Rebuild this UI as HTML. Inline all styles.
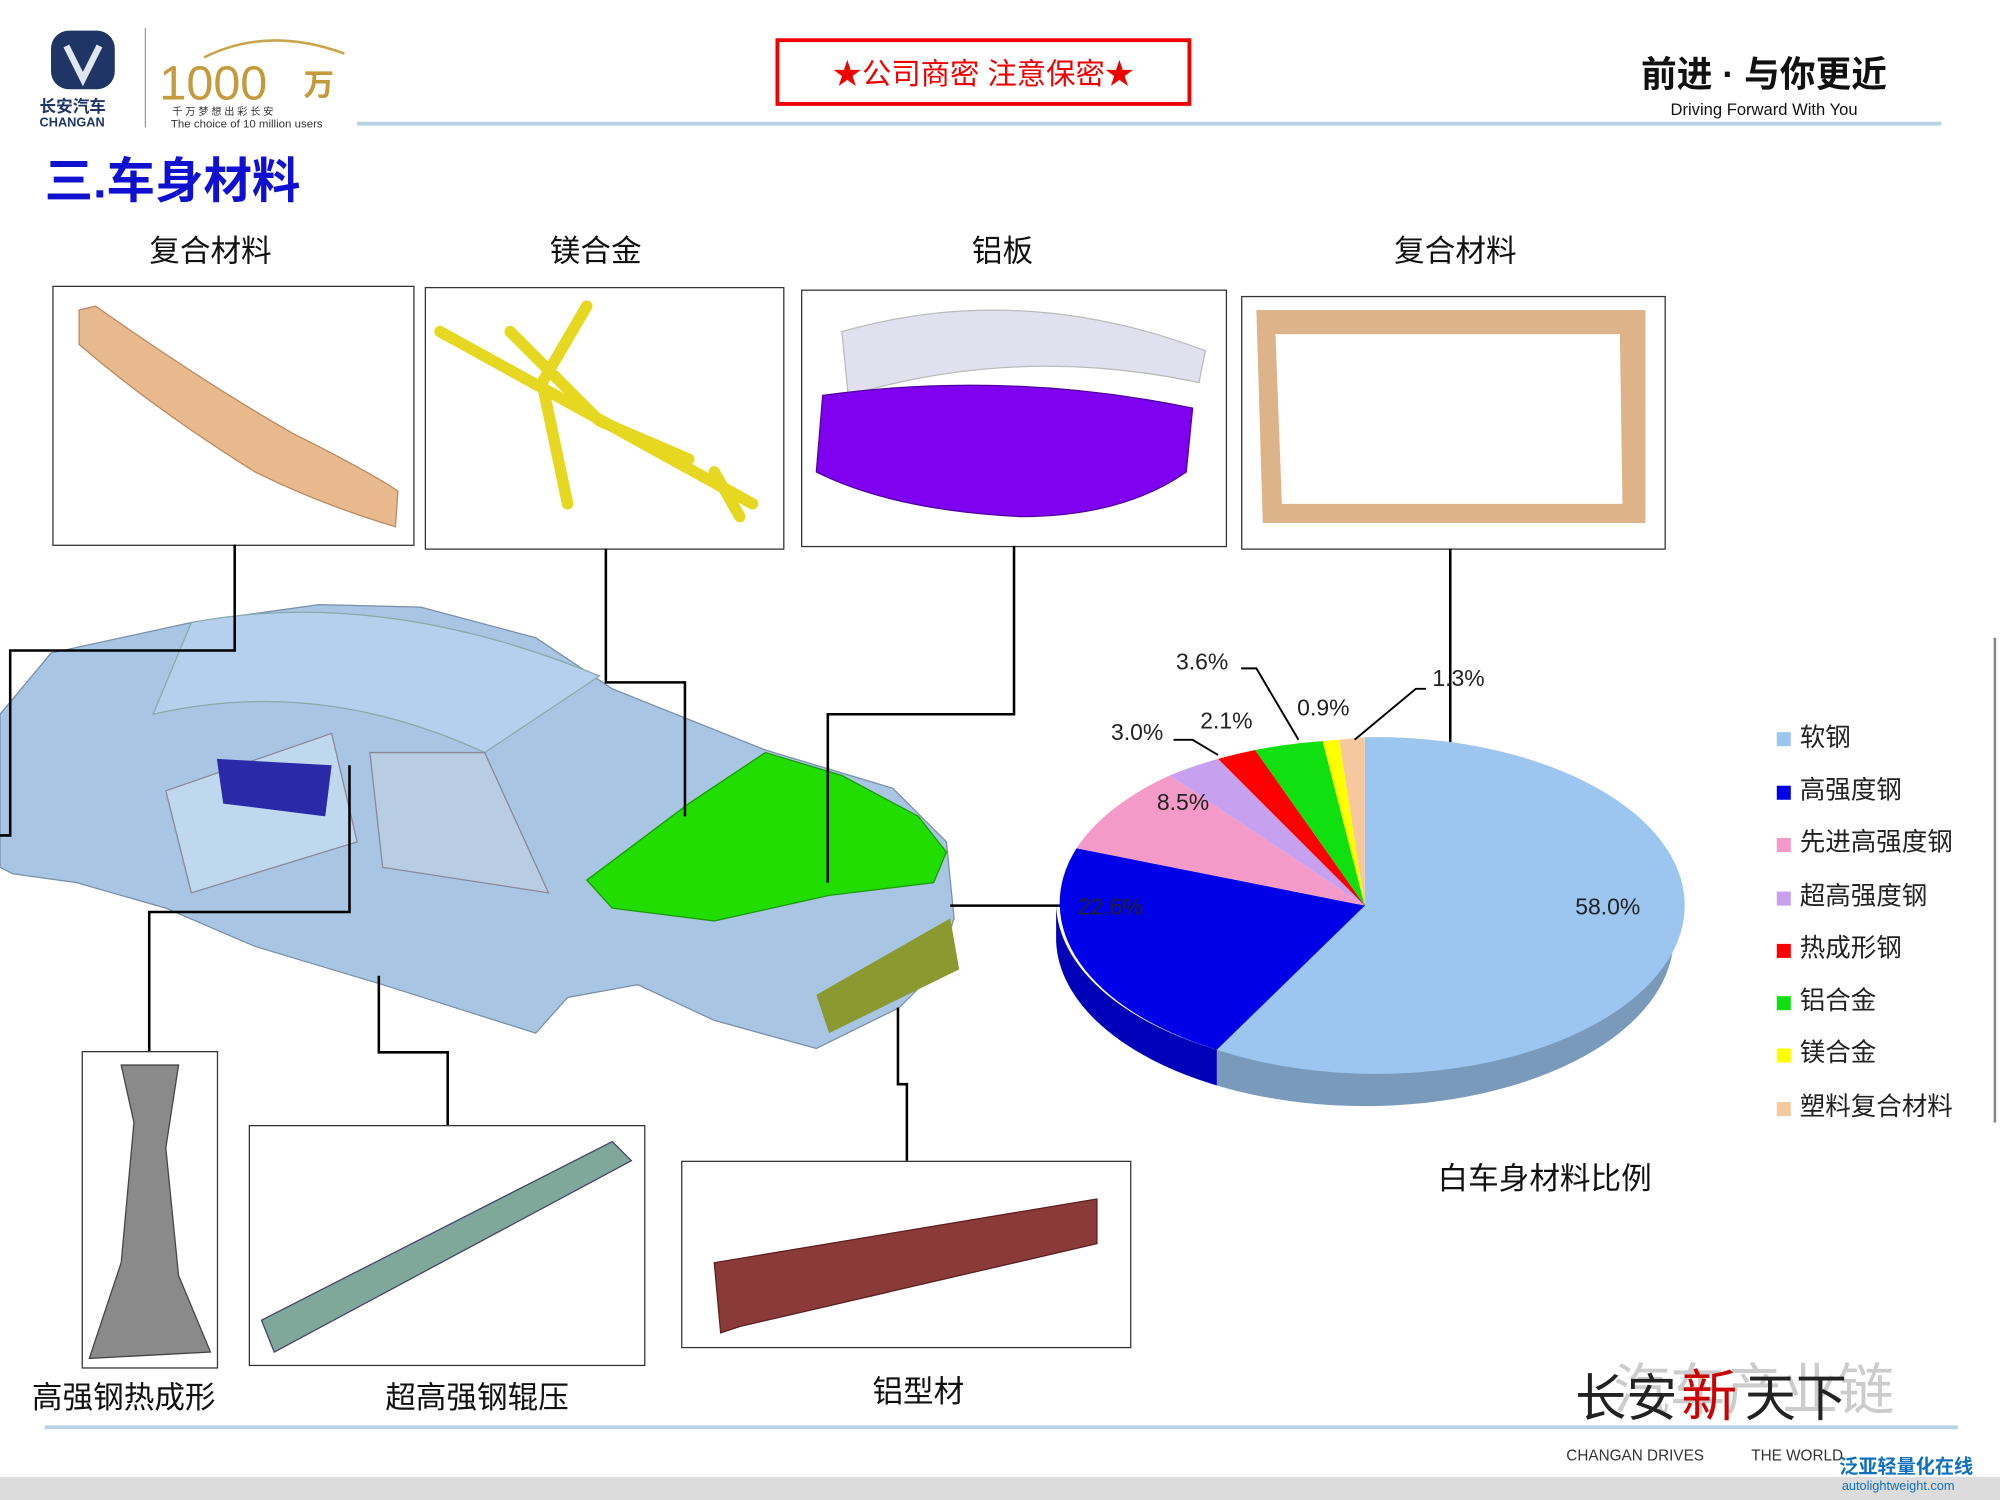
<!DOCTYPE html>
<html><head><meta charset="utf-8"><style>
html,body{margin:0;padding:0;background:#fff;width:2000px;height:1500px;overflow:hidden}
svg text{font-family:"Liberation Sans","Noto Sans CJK SC",sans-serif}
</style></head><body>
<svg width="2000" height="1500" viewBox="0 0 1568 1176" xmlns="http://www.w3.org/2000/svg">
<rect width="1568" height="1176" fill="#fff"/>
<!-- header -->
<rect x="40" y="24" width="50" height="46" rx="14" fill="#1f3565"/>
<path d="M52 36 L65 62 L78 36" stroke="#dfe6f0" stroke-width="5" fill="none"/>
<text x="31" y="88" font-size="13" font-weight="bold" fill="#1f3565">长安汽车</text>
<text x="31" y="99" font-size="10" font-weight="bold" fill="#1f3565">CHANGAN</text>
<line x1="114" y1="22" x2="114" y2="100" stroke="#999" stroke-width="1"/>
<path d="M160 45 Q210 20 270 42" stroke="#c9a44a" stroke-width="2" fill="none"/>
<text x="125" y="78" font-size="38" fill="#c49a3c" font-family="Liberation Serif">1000</text>
<text x="238" y="75" font-size="24" fill="#c49a3c" font-weight="bold">万</text>
<text x="135" y="90" font-size="8" fill="#333">千 万 梦 想  出 彩 长 安</text>
<text x="134" y="100" font-size="9" fill="#333">The choice of 10 million users</text>
<rect x="609.5" y="31.5" width="323" height="50" fill="#fff" stroke="#e00" stroke-width="3"/>
<text x="771" y="66" font-size="23" fill="#e00" text-anchor="middle">★公司商密  注意保密★</text>
<text x="1383" y="68" font-size="28" font-weight="bold" fill="#111" text-anchor="middle">前进 · 与你更近</text>
<text x="1383" y="90" font-size="13" fill="#111" text-anchor="middle">Driving Forward With You</text>
<line x1="280" y1="97" x2="1522" y2="97" stroke="#b8d3e3" stroke-width="3"/>
<text x="35" y="155" font-size="38" font-weight="bold" fill="#1010d0">三.车身材料</text>
<!-- top labels -->
<g font-size="24" fill="#111" text-anchor="middle">
<text x="165" y="205">复合材料</text><text x="467" y="205">镁合金</text>
<text x="786" y="205">铝板</text><text x="1141" y="205">复合材料</text>
<text x="97" y="1104">高强钢热成形</text><text x="374" y="1104">超高强钢辊压</text>
<text x="720" y="1099">铝型材</text>
<text x="1211" y="932">白车身材料比例</text>
</g>
<!-- boxes -->
<g fill="#fff" stroke="#333" stroke-width="1">
<rect x="41.5" y="224.5" width="283" height="203"/>
<rect x="333.5" y="225.5" width="281" height="205"/>
<rect x="628.5" y="227.5" width="333" height="201"/>
<rect x="973.5" y="232.5" width="332" height="198"/>
<rect x="64.5" y="824.5" width="106" height="248"/>
<rect x="195.5" y="882.5" width="310" height="188"/>
<rect x="534.5" y="910.5" width="352" height="146"/>
</g>
<!-- box contents -->
<path d="M62 243 L75 240 Q160 300 230 340 Q290 370 312 385 L310 413 Q250 395 200 370 Q120 320 62 270 Z" fill="#e7b98d" stroke="#b98a60"/>
<g stroke="#e6d820" stroke-width="9" fill="none" stroke-linecap="round">
<path d="M345 260 L590 395"/><path d="M460 240 L425 300 L445 395"/><path d="M400 260 L470 330 L540 360"/><path d="M560 370 L580 405"/>
</g>
<path d="M660 260 Q800 220 945 275 L940 300 Q800 270 665 310 Z" fill="#e0e0ee" stroke="#bbb"/>
<path d="M645 310 Q790 290 935 320 L930 370 Q880 405 800 405 Q700 400 640 370 Z" fill="#8000f0" stroke="#5000a0"/>
<path d="M985 243 L1290 243 L1290 410 L990 410 Z M1000 262 L1270 262 L1272 395 L1005 395 Z" fill="#ddb38a" fill-rule="evenodd"/>
<path d="M95 835 L140 835 L130 900 L140 1000 L165 1060 L70 1065 L95 990 L105 880 Z" fill="#8a8a8a" stroke="#444"/>
<path d="M205 1035 L480 895 L495 910 L215 1060 Z" fill="#7fa79a" stroke="#446"/>
<path d="M560 990 L860 940 L860 975 L580 1040 L565 1045 Z" fill="#8b3a3a" stroke="#5a2020"/>
<!-- car -->
<path d="M0 560 L40 512 L150 488 L250 474 L330 476 L420 500 L480 540 L600 588 L700 618 L742 660 L748 720 L735 760 L705 790 L640 822 L560 800 L500 772 L445 782 L420 810 L300 772 L200 742 L130 712 L60 692 L10 685 L0 680 Z" fill="#a8c6e4" stroke="#7890a8"/>
<path d="M150 488 Q300 460 470 530 L380 590 Q250 530 120 560 Z" fill="#b4d0ec" stroke="#8aa"/>
<path d="M130 620 L260 575 L280 660 L150 700 Z" fill="#c0d8ee" stroke="#889"/>
<path d="M170 595 L260 600 L255 640 L175 630 Z" fill="#2a2aa8"/>
<path d="M290 590 L380 590 L430 700 L300 680 Z" fill="#b8cde2" stroke="#889"/>
<path d="M460 690 L540 630 L600 590 L660 608 L720 640 L742 668 L732 692 L650 702 L560 722 L480 712 Z" fill="#22dd00" stroke="#1a9a00"/>
<path d="M640 780 L745 720 L752 760 L650 810 Z" fill="#8a9a30"/>
<!-- connectors -->
<g stroke="#000" stroke-width="2" fill="none">
<path d="M184 427 V510 H8 V655 H0"/>
<path d="M475 430 V535 H537 V640"/>
<path d="M795 428 V560 H649 V692"/>
<path d="M1137 430 V710 H745"/>
<path d="M274 600 V715 H117 V824"/>
<path d="M297 765 V825 H351 V882"/>
<path d="M704 790 V850 H711 V910"/>
</g>
<!-- pie -->
<path d="M1312 710 A242 132 0 0 1 954 823 L954 851 A242 132 0 0 0 1312 738 Z" fill="#7a9abb"/>
<path d="M954 823 A242 132 0 0 1 828 710 L828 738 A242 132 0 0 0 954 851 Z" fill="#0000b8"/>
<path d="M1070 710 L1070 578 A242 132 0 1 1 954 823 Z" fill="#9cc6f0"/>
<path d="M1070 710 L954 823 A242 132 0 0 1 844 665 Z" fill="#0000e8"/>
<path d="M1070 710 L844 665 A242 132 0 0 1 917 608 Z" fill="#f49ac8"/>
<path d="M1070 710 L917 608 A242 132 0 0 1 955 595 Z" fill="#c8a0f0"/>
<path d="M1070 710 L955 595 A242 132 0 0 1 984 588 Z" fill="#f00"/>
<path d="M1070 710 L984 588 A242 132 0 0 1 1037 581 Z" fill="#10e010"/>
<path d="M1070 710 L1037 581 A242 132 0 0 1 1050 580 Z" fill="#ffff00"/>
<path d="M1070 710 L1050 580 A242 132 0 0 1 1070 578 Z" fill="#f5c8a0"/>
<g stroke="#000" stroke-width="1.5" fill="none">
<path d="M973 524 L985 524 L1018 580"/><path d="M920 580 L935 580 L955 592"/><path d="M1118 540 L1110 540 L1062 580"/>
</g>
<g font-size="18" fill="#222">
<text x="922" y="525">3.6%</text><text x="871" y="580">3.0%</text><text x="941" y="571">2.1%</text>
<text x="1017" y="561">0.9%</text><text x="1123" y="538">1.3%</text><text x="907" y="635">8.5%</text>
<text x="845" y="717">22.6%</text><text x="1235" y="717">58.0%</text>
</g>
<!-- legend -->
<g font-size="20" fill="#222">
<rect x="1393" y="574" width="11" height="11" fill="#9cc6f0"/><text x="1411" y="585">软钢</text>
<rect x="1393" y="616" width="11" height="11" fill="#0000e8"/><text x="1411" y="626">高强度钢</text>
<rect x="1393" y="657" width="11" height="11" fill="#f49ac8"/><text x="1411" y="667">先进高强度钢</text>
<rect x="1393" y="699" width="11" height="11" fill="#c8a0f0"/><text x="1411" y="709">超高强度钢</text>
<rect x="1393" y="740" width="11" height="11" fill="#f00"/><text x="1411" y="750">热成形钢</text>
<rect x="1393" y="781" width="11" height="11" fill="#10e010"/><text x="1411" y="791">铝合金</text>
<rect x="1393" y="822" width="11" height="11" fill="#ffff00"/><text x="1411" y="832">镁合金</text>
<rect x="1393" y="864" width="11" height="11" fill="#f5c8a0"/><text x="1411" y="874">塑料复合材料</text>
</g>
<line x1="1564" y1="500" x2="1564" y2="880" stroke="#888" stroke-width="2"/>
<!-- footer -->
<line x1="35" y1="1119" x2="1535" y2="1119" stroke="#b8d3e3" stroke-width="3"/>
<text x="1265" y="1105" font-size="44" fill="#ccc">汽车产业链</text>
<text x="1235" y="1110" font-size="40" fill="#222">长安</text>
<text x="1318" y="1110" font-size="44" fill="#c00">新</text>
<text x="1368" y="1110" font-size="40" fill="#222">天下</text>
<text x="1228" y="1145" font-size="12" fill="#333">CHANGAN DRIVES</text>
<text x="1373" y="1145" font-size="12" fill="#333">THE WORLD</text>
<rect x="0" y="1158" width="1568" height="18" fill="#dcdcdc"/>
<text x="1442" y="1155" font-size="15" font-weight="bold" fill="#1070c0">泛亚轻量化在线</text>
<text x="1444" y="1168" font-size="10" fill="#1070c0">autolightweight.com</text>
</svg>
</body></html>
